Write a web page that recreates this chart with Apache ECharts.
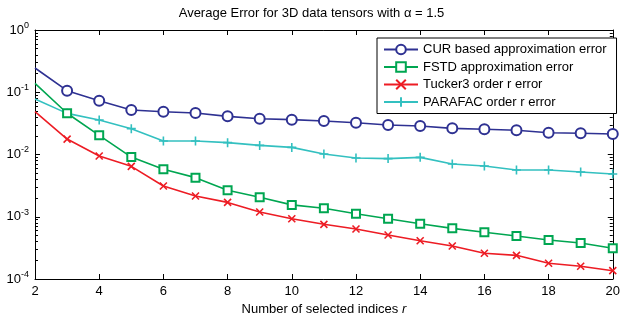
<!DOCTYPE html>
<html><head><meta charset="utf-8">
<script src="https://cdn.jsdelivr.net/npm/echarts@6/dist/echarts.min.js"></script>
<style>html,body{margin:0;padding:0;background:#fff}#c{width:623px;height:322px}</style>
</head><body><div id="c"></div>
<script>
const xs = [2,3,4,5,6,7,8,9,10,11,12,13,14,15,16,17,18,19,20];
const cur = [0.245,0.106,0.073,0.052,0.0487,0.0464,0.041,0.0376,0.0363,0.0345,0.0324,0.0298,0.0287,0.0263,0.0254,0.0245,0.0224,0.0219,0.0214];
const fstd = [0.139,0.046,0.0203,0.0091,0.00578,0.00425,0.00266,0.00205,0.00155,0.00137,0.00112,0.00093,0.000773,0.000651,0.000562,0.000491,0.000423,0.000379,0.000311];
const tucker = [0.0487,0.0177,0.00946,0.00646,0.00312,0.00215,0.0017,0.00119,0.00093,0.000756,0.000635,0.000509,0.000412,0.000339,0.000259,0.00024,0.000179,0.00016,0.000136];
const parafac = [0.078,0.0458,0.0358,0.026,0.0165,0.0165,0.0155,0.014,0.013,0.0102,0.0088,0.0086,0.009,0.00703,0.00653,0.00564,0.00564,0.00523,0.00486];
const names = ['CUR based approximation error','FSTD approximation error','Tucker3 order r error','PARAFAC order r error'];
const colors = ['#2e3192','#00a651','#ed1c24','#33c0c0'];
const titleText = 'Average Error for 3D data tensors with \u03b1 = 1.5';
const xNameMain = 'Number of selected indices ';
const xNameVar = 'r';

const FONT = 'Liberation Sans, Arial, sans-serif';
const crossPath = 'path://M0,0L10,10M10,0L0,10';
const plusPath = 'path://M5,0L5,10M0,5L10,5';
function pair(arr){
  return xs.map((x,i)=> i===0 ? {value:[x,arr[i]], symbol:'none'} : [x,arr[i]]);
}
const chart = echarts.init(document.getElementById('c'), null, {renderer:'canvas'});
const axisCommon = {
  axisLine:{show:true,lineStyle:{color:'#000',width:1}},
  axisTick:{show:true,inside:true,length:5,lineStyle:{color:'#000'}},
  splitLine:{show:false}
};
function mk(i, data, symbol, size){
  return {name:names[i], type:'line', data:pair(data), symbol:symbol, symbolSize:size,
    lineStyle:{color:colors[i],width:1.6}, showAllSymbol:true,
    itemStyle:{color:colors[i], borderColor:colors[i], borderWidth:1.6},
    z: 5-i, animation:false};
}
chart.setOption({
  animation:false,
  backgroundColor:'#fff',
  title:{text:titleText,left:'center',top:2,textStyle:{fontFamily:FONT,fontSize:13,fontWeight:'normal',color:'#000'}},
  grid:{left:35,right:3,top:30,bottom:43,containLabel:false},
  legend:{orient:'vertical',left:377,top:38,width:238,backgroundColor:'#fff',borderColor:'#000',borderWidth:1,
    padding:[5,10,5,6],itemWidth:34,itemHeight:12,itemGap:4.5,
    textStyle:{fontFamily:FONT,fontSize:13,color:'#000'},data:names},
  xAxis:[
    Object.assign({type:'value',min:2,max:20,interval:2,position:'bottom',
      name:'{n|'+xNameMain+'}{i|'+xNameVar+'}',nameLocation:'middle',nameGap:24,
      nameTextStyle:{fontFamily:FONT,fontSize:13,color:'#000',
        rich:{n:{fontFamily:FONT,fontSize:13,color:'#000'},i:{fontStyle:'italic',fontFamily:FONT,fontSize:13,color:'#000'}}},
      axisLabel:{fontFamily:FONT,fontSize:13,color:'#000',margin:6}},axisCommon),
    Object.assign({type:'value',min:2,max:20,interval:2,position:'top',axisLabel:{show:false}},axisCommon)
  ],
  yAxis:[
    Object.assign({type:'log',logBase:10,min:1e-4,max:1,position:'left',
      minorTick:{show:true,splitNumber:9,length:3,lineStyle:{color:'#000'}},
      axisLabel:{fontFamily:FONT,color:'#000',margin:6,
        formatter:function(v){const e=Math.round(Math.log10(v));return '{b|10}{s|'+e+'}';},
        rich:{b:{fontSize:13,fontFamily:FONT,color:'#000'},s:{fontSize:9,fontFamily:FONT,color:'#000',padding:[0,0,9,0]}}}},axisCommon),
    Object.assign({type:'log',logBase:10,min:1e-4,max:1,position:'right',
      minorTick:{show:true,splitNumber:9,length:3,lineStyle:{color:'#000'}},
      axisLabel:{show:false}},axisCommon)
  ],
  series:[
    mk(0,cur,'emptyCircle',10),
    mk(1,fstd,'emptyRect',8),
    mk(2,tucker,crossPath,7),
    mk(3,parafac,plusPath,9)
  ]
});
</script></body></html>
